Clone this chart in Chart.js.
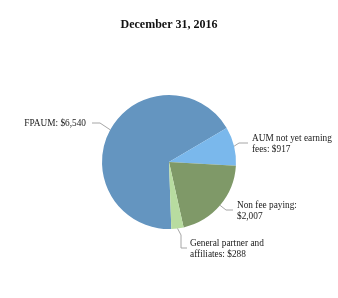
<!DOCTYPE html>
<html>
<head>
<meta charset="utf-8">
<script src="https://cdn.jsdelivr.net/npm/chart.js@4/dist/chart.umd.min.js"></script>
<style>
  html, body { margin: 0; padding: 0; background: #fff; }
  #wrap { width: 338px; height: 298px; }
</style>
</head>
<body>
<div id="wrap"><canvas id="pieChart"></canvas></div>
<script>
const title = "December 31, 2016";
const categories = ["FPAUM", "AUM not yet earning fees", "Non fee paying", "General partner and affiliates"];
const values = [6540, 917, 2007, 288];
const labelLines = [
  ["FPAUM: $6,540"],
  ["AUM not yet earning", "fees: $917"],
  ["Non fee paying:", "$2,007"],
  ["General partner and", "affiliates: $288"]
];
const colors = ["#6495c0", "#7ab8ec", "#7f9968", "#b8dca0"];

// leader line bends and text anchors, relative to the pie centre
const leaderLayout = [
  { pts: [[-69, -39], [-77, -39]], text: [-83, -36], align: "right" },
  { pts: [[70, -19], [79, -19]], text: [83, -21], align: "left" },
  { pts: [[57, 48], [64, 48]], text: [68, 46], align: "left" },
  { pts: [[12, 73], [12, 86], [18, 86]], text: [21, 84], align: "left" }
];

const pieLabels = {
  id: "pieLabels",
  afterDatasetsDraw(chart) {
    const ctx = chart.ctx;
    const arcs = chart.getDatasetMeta(0).data;
    ctx.save();
    // title
    ctx.fillStyle = "#111";
    ctx.font = "bold 12px 'Liberation Serif', serif";
    ctx.textAlign = "center";
    ctx.textBaseline = "alphabetic";
    ctx.fillText(title, chart.width / 2, 28);

    ctx.font = "9.3px 'Liberation Serif', serif";
    arcs.forEach((arc, i) => {
      const lay = leaderLayout[i];
      const cx = arc.x, cy = arc.y;
      const mid = (arc.startAngle + arc.endAngle) / 2;
      const sx = cx + Math.cos(mid) * arc.outerRadius;
      const sy = cy + Math.sin(mid) * arc.outerRadius;
      ctx.strokeStyle = "#a6a6a6";
      ctx.lineWidth = 1;
      ctx.beginPath();
      ctx.moveTo(sx, sy);
      lay.pts.forEach(p => ctx.lineTo(cx + p[0], cy + p[1]));
      ctx.stroke();

      ctx.fillStyle = "#1a1a1a";
      ctx.textAlign = lay.align;
      labelLines[i].forEach((line, k) => {
        ctx.fillText(line, cx + lay.text[0], cy + lay.text[1] + k * 11);
      });
    });
    ctx.restore();
  }
};

new Chart(document.getElementById("pieChart"), {
  type: "pie",
  data: {
    labels: categories,
    datasets: [{
      data: values,
      backgroundColor: colors,
      borderWidth: 0,
      hoverOffset: 0,
      offset: 0
    }]
  },
  options: {
    responsive: true,
    maintainAspectRatio: false,
    animation: false,
    rotation: 178,
    layout: { padding: { left: 102, right: 102, top: 95, bottom: 69 } },
    plugins: {
      legend: { display: false },
      tooltip: { enabled: false },
      title: { display: false }
    }
  },
  plugins: [pieLabels]
});
</script>
</body>
</html>
